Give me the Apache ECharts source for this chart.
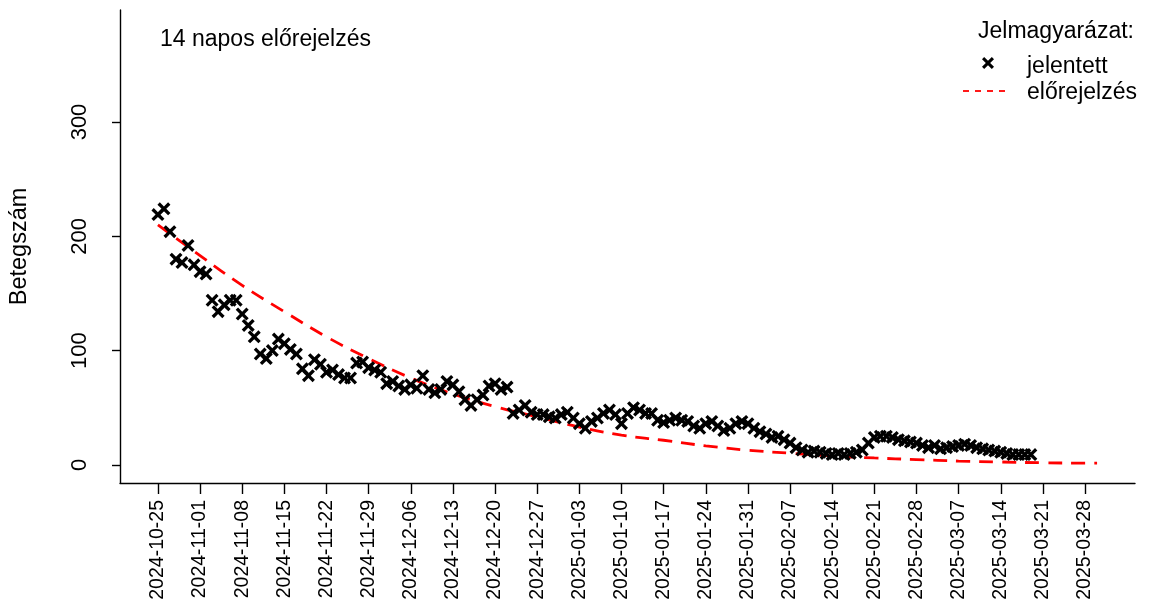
<!DOCTYPE html>
<html>
<head>
<meta charset="utf-8">
<script src="https://cdn.jsdelivr.net/npm/echarts@6/dist/echarts.min.js"></script>
<style>
html,body{margin:0;padding:0;background:#fff;}
#chart{width:1150px;height:612px;}
</style>
</head>
<body>
<div id="chart"></div>
<script>
// ---- data ----
const startDate = '2024-10-25';
const tickLabels = ['2024-10-25','2024-11-01','2024-11-08','2024-11-15','2024-11-22','2024-11-29','2024-12-06','2024-12-13','2024-12-20','2024-12-27','2025-01-03','2025-01-10','2025-01-17','2025-01-24','2025-01-31','2025-02-07','2025-02-14','2025-02-21','2025-02-28','2025-03-07','2025-03-14','2025-03-21','2025-03-28'];
const tickDays = [0,7,14,21,28,35,42,49,56,63,70,77,84,91,98,105,112,119,126,133,140,147,154];
// reported daily values starting at 2024-10-25
const reported = [219,224,204,180,177,192,175,169,167,144,134,140,144,144,132,122,112,97,93,100,
110,106,101,97,84,78,92,88,81,83,79,76,76,89,90,85,83,81,71,73,
69,66,70,67,78,66,63,66,73,70,64,57,52,57,61,69,71,66,68,45,
48,52,46,44,44,42,41,44,46,41,36,32,38,41,45,48,44,36,45,50,
48,45,45,39,37,39,41,39,38,34,32,36,38,34,30,32,36,38,36,32,
29,27,24,25,22,19,15,13,11,12,11,10,9,10,9,10,11,13,19,24,
25,25,24,22,21,20,19,17,15,17,14,15,16,17,18,17,15,14,13,12,
11,10,9,9,9,9];
// forecast curve (day offset, value)
const forecastDays = [0,7,14,21,28,35,42,49,56,63,70,77,84,91,98,105,112,119,126,133,140,147,154,156];
const forecastValues = [210,183,157,134,112,93,76,62,51,42,33,26,21.5,16.6,12.8,10.2,7.8,6,4.6,3.3,2.5,1.8,1.5,1.5];
const yTicks = [0,100,200,300];
const titleText = '14 napos előrejelzés';
const yName = 'Betegszám';
const legendTitle = 'Jelmagyarázat:';
const legendNames = ['jelentett','előrejelzés'];

const FONT = '"Liberation Sans", Arial, sans-serif';
const XPATH = 'path://M1.8,0 L5,3.2 L8.2,0 L10,1.8 L6.8,5 L10,8.2 L8.2,10 L5,6.8 L1.8,10 L0,8.2 L3.2,5 L0,1.8 Z';
const xPts = [[1.8,0],[5,3.2],[8.2,0],[10,1.8],[6.8,5],[10,8.2],[8.2,10],[5,6.8],[1.8,10],[0,8.2],[3.2,5],[0,1.8]];

const chart = echarts.init(document.getElementById('chart'), null, {renderer:'canvas'});
const option = {
  animation:false,
  backgroundColor:'#fff',
  grid:{left:120, right:15, top:10, bottom:129, containLabel:false},
  xAxis:{
    type:'value', min:-6.3, max:162.3,
    axisLine:{show:true, onZero:false, lineStyle:{color:'#000', width:1.4}},
    axisTick:{show:true, length:11, lineStyle:{color:'#000', width:1.4}, customValues:tickDays},
    axisLabel:{show:true, rotate:90, margin:17, color:'#000', fontFamily:'Liberation Sans', fontSize:19.5,
      customValues:tickDays,
      formatter:function(v){ const i = tickDays.indexOf(Math.round(v)); return i>=0?tickLabels[i]:''; }},
    splitLine:{show:false}
  },
  yAxis:{
    type:'value', min:-15.9, max:398,
    axisLine:{show:true, onZero:false, lineStyle:{color:'#000', width:1.4}},
    axisTick:{show:true, length:8, lineStyle:{color:'#000', width:1.4}, customValues:yTicks},
    axisLabel:{show:true, rotate:90, margin:29, color:'#000', fontFamily:'Liberation Sans', fontSize:22,
      customValues:yTicks},
    splitLine:{show:false},
    name:yName, nameLocation:'middle', nameRotate:90, nameGap:88,
    nameTextStyle:{color:'#000', fontFamily:'Liberation Sans', fontSize:23.5}
  },
  series:[
    {
      type:'line', name:legendNames[1],
      data:forecastDays.map((d,i)=>[d,forecastValues[i]]),
      smooth:0.4, showSymbol:false, z:2,
      lineStyle:{color:'#ff0000', width:2.8, type:[14,9]}
    },
    {
      type:'scatter', name:legendNames[0],
      data:reported.map((v,i)=>[i,v]),
      symbol:XPATH, symbolSize:13, z:3,
      itemStyle:{color:'#000', opacity:1}
    }
  ],
  graphic:[
    {type:'text', x:160, y:40, style:{text:titleText, fill:'#000', font:'23px '+FONT, verticalAlign:'middle'}},
    {type:'text', x:978, y:32, style:{text:legendTitle, fill:'#000', font:'23px '+FONT, verticalAlign:'middle'}},
    {type:'polygon', x:982, y:57, scaleX:1.2, scaleY:1.2, shape:{points:xPts}, style:{fill:'#000'}},
    {type:'text', x:1027, y:67, style:{text:legendNames[0], fill:'#000', font:'23px '+FONT, verticalAlign:'middle'}},
    {type:'line', shape:{x1:963, y1:91, x2:1006, y2:91}, style:{stroke:'#ff0000', lineWidth:1.8, lineDash:[6,6]}},
    {type:'text', x:1027, y:93, style:{text:legendNames[1], fill:'#000', font:'23px '+FONT, verticalAlign:'middle'}}
  ]
};
chart.setOption(option);
</script>
</body>
</html>
